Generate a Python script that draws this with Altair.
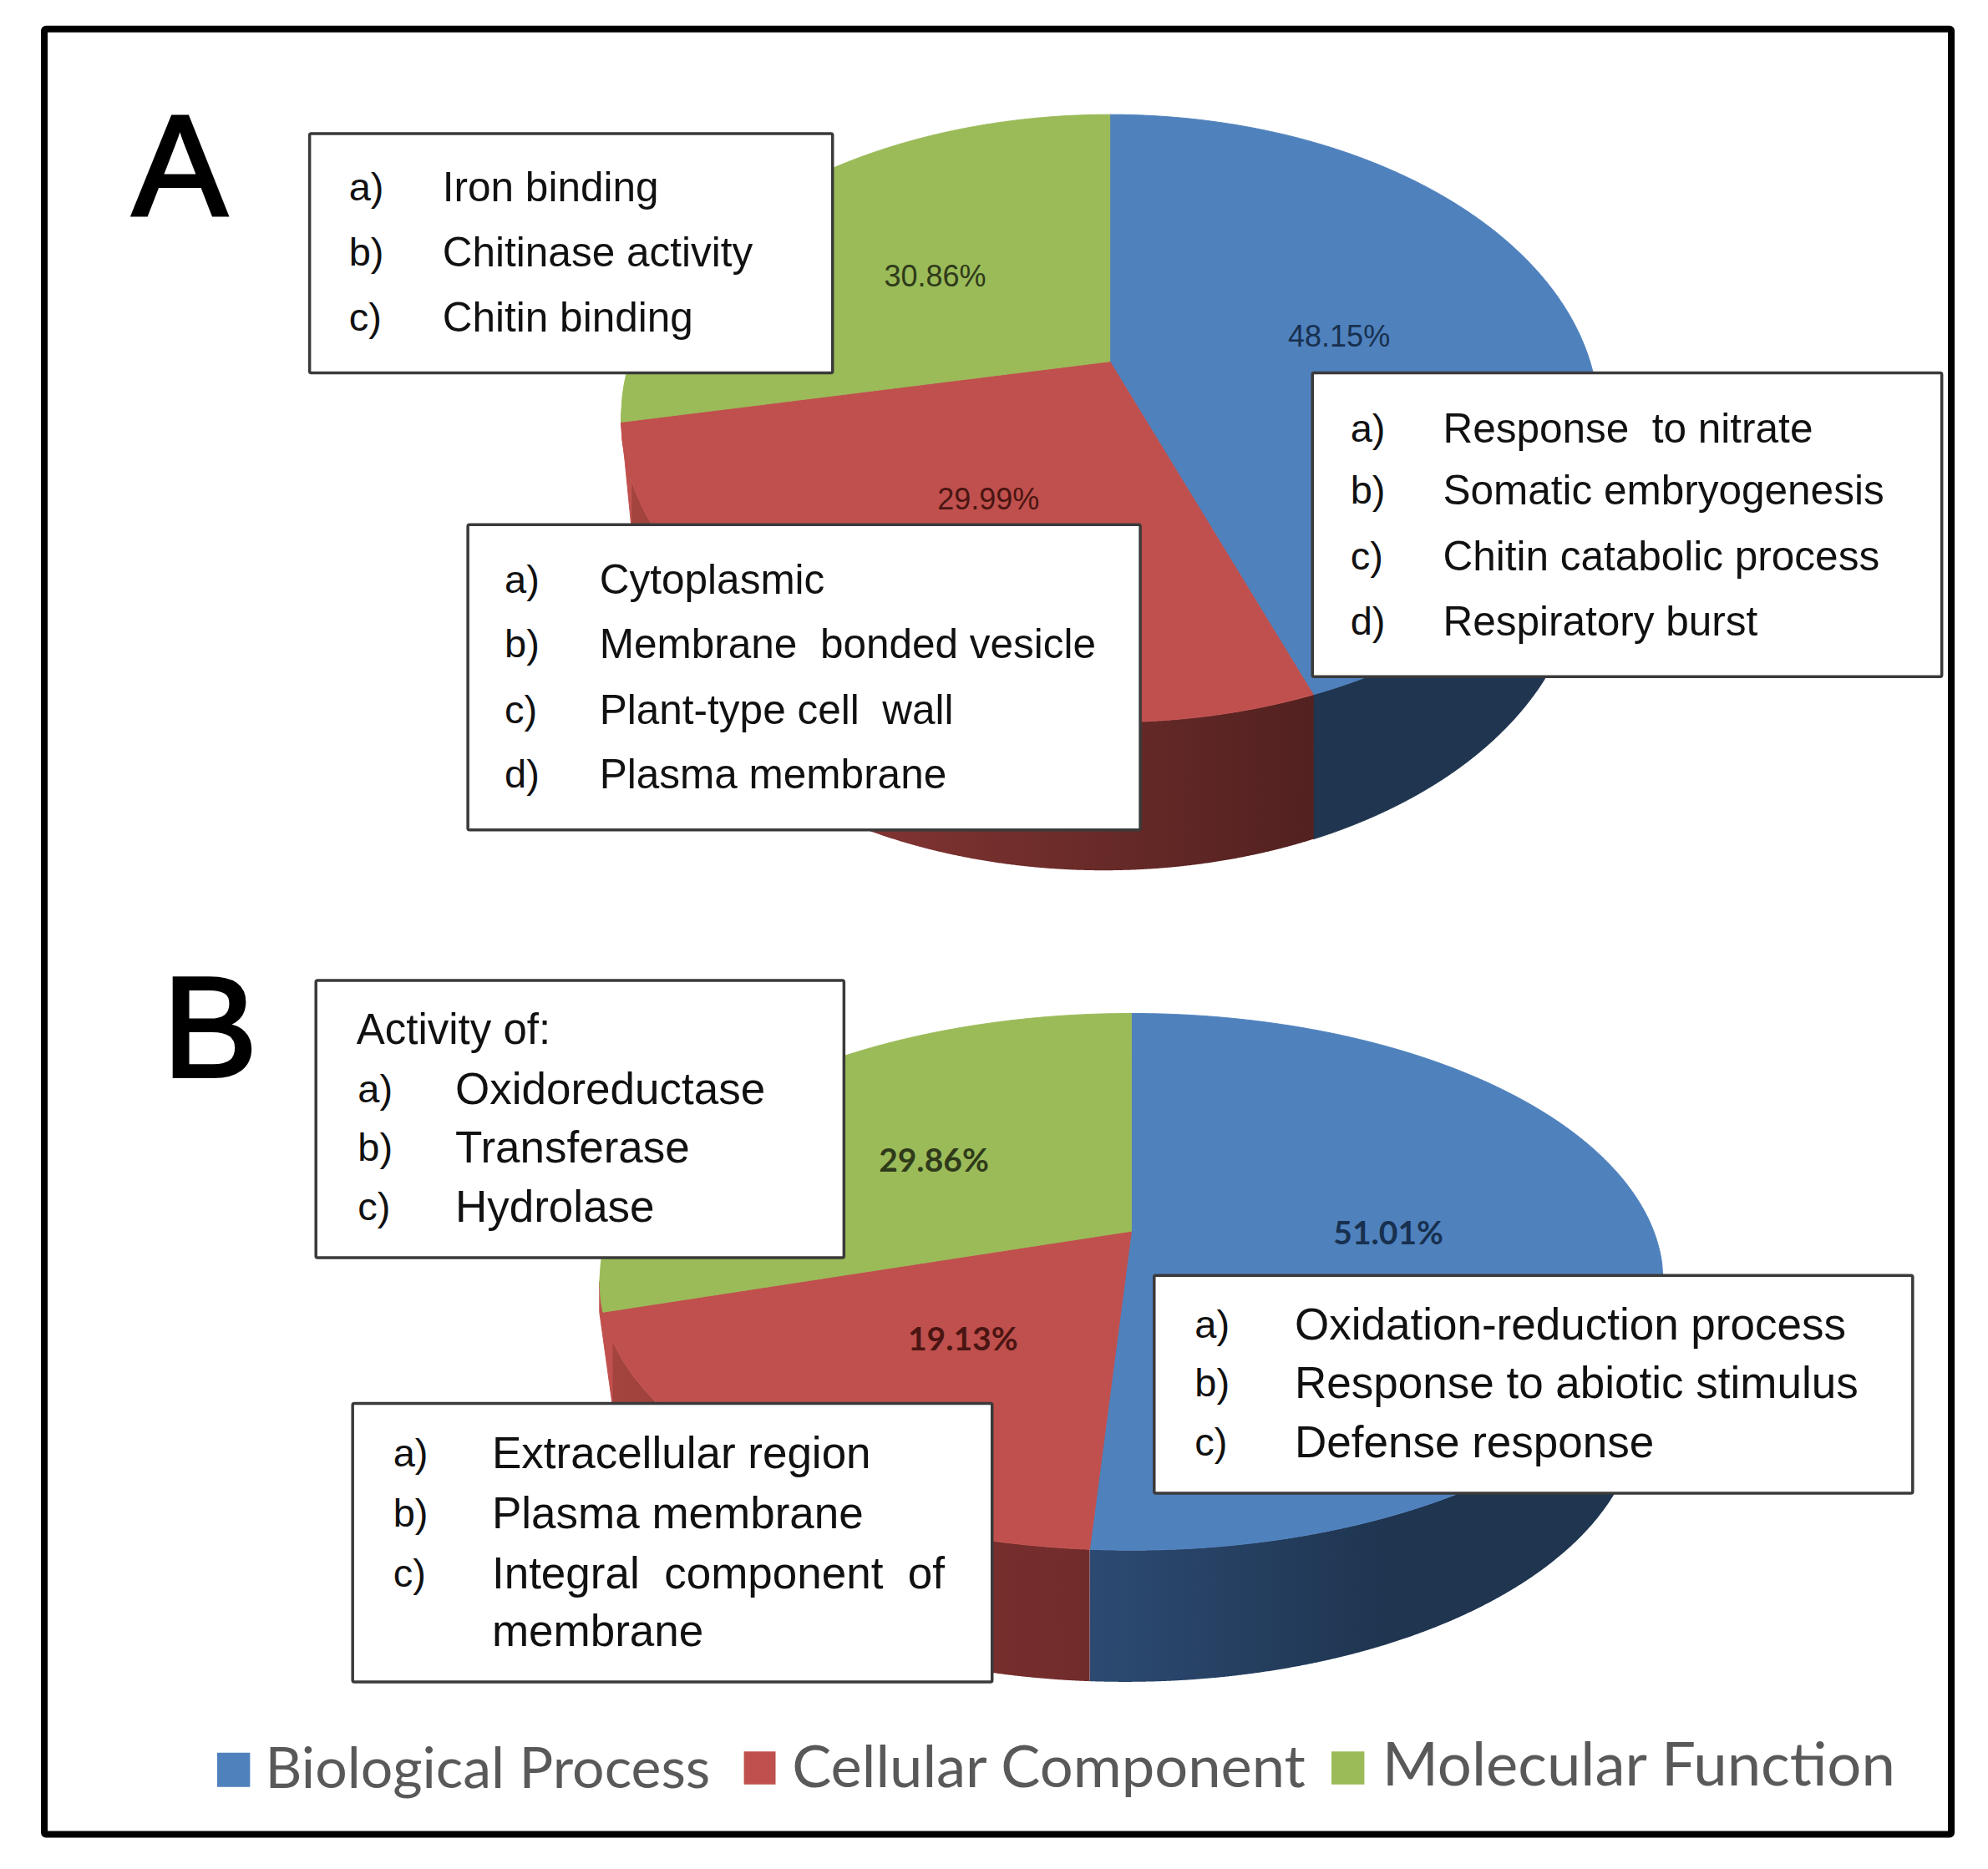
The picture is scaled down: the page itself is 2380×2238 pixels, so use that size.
import numpy as np
import pandas as pd
import altair as alt

W, H = 2380, 2238
S = W / 1570  # picture units used for every position below
BLUE, RED, GREEN = "#4f81bd", "#c0504d", "#9bbb59"

# pie geometry: upper rim (cx, cy, a, b), apex, lower rim (cx, cy, a, b), slice boundaries in degrees
pie_a = dict(apex=(876, 285), top=(876, 330, 386, 240), low=(871, 447, 375, 240), cuts=[0, 155.4, 269.3, 360],
             edge=[(490, 333), (498, 414)])
pie_b = dict(apex=(893, 972), top=(893, 1012, 420, 212), low=(888, 1116, 405, 212), cuts=[0, 184.5, 263.5, 360],
             edge=[(473, 1036), (483, 1108)])
slice_colors = [BLUE, RED, GREEN]

percent_a = [("48.15%", 1057, 265, "#17304f"), ("29.99%", 780, 393, "#4a1512"), ("30.86%", 738, 217, "#2f3a1a")]
percent_b = [("51.01%", 1096, 973, "#17304f"), ("19.13%", 760, 1057, "#4a1512"), ("29.86%", 737, 916, "#2f3a1a")]

boxes = [(244, 657, 105, 294), (1036, 1533, 294, 534), (369, 900, 414, 655),
         (249, 666, 774, 993), (911, 1510, 1007, 1179), (278, 783, 1108, 1328)]

NB = "\u00a0"
items_a = [
    (275, 349, [(147, "a)", "Iron binding"), (199, "b)", "Chitinase activity"), (250, "c)", "Chitin binding")]),
    (1066, 1139, [(338, "a)", f"Response {NB}to nitrate"), (387, "b)", "Somatic embryogenesis"),
                  (439, "c)", "Chitin catabolic process"), (490, "d)", "Respiratory burst")]),
    (398, 473, [(457, "a)", "Cytoplasmic"), (508, "b)", f"Membrane {NB}bonded vesicle"),
                (560, "c)", f"Plant-type cell {NB}wall"), (611, "d)", "Plasma membrane")]),
]
items_b = [
    (282, 359, [(860, "a)", "Oxidoreductase"), (906, "b)", "Transferase"), (953, "c)", "Hydrolase")]),
    (943, 1022, [(1046, "a)", "Oxidation-reduction process"), (1092, "b)", "Response to abiotic stimulus"),
                 (1139, "c)", "Defense response")]),
    (310, 388, [(1147, "a)", "Extracellular region"), (1195, "b)", "Plasma membrane"),
                (1242, "c)", f"Integral {NB}component {NB}of"), (1288, "", "membrane")]),
]
activity = ("Activity of:", 281, 813)
letters = [("A", 104, 134), ("B", 128, 815)]

legend_names = ["Biological Process", "Cellular Component", "Molecular Function"]
legend_text_xy = [(209, 1397), (625, 1396), (1091, 1394)]
legend_sizes = [68, 70.5, 72.5]
legend_swatches = [(171, 197, 1384, 1411), (587, 612, 1383, 1409), (1051, 1077, 1383, 1409)]

XS = alt.Scale(domain=[8 / S - 0.5, (W - 8) / S - 0.5])
YS = alt.Scale(domain=[(H - 8) / S - 0.5, 8 / S - 0.5])


def X(f="x"):
    return alt.X(f"{f}:Q", scale=XS, axis=None, title=None)


def Y(f="y"):
    return alt.Y(f"{f}:Q", scale=YS, axis=None, title=None, stack=None)


def rim(e, t):
    t = np.radians(t)
    return e[0] + e[2] * np.sin(t), e[1] - e[3] * np.cos(t)


def sector(pie, t0, t1):
    px, py = rim(pie["top"], np.linspace(t0, t1, 241))
    vx = np.r_[pie["apex"][0], px, pie["apex"][0]]
    vy = np.r_[pie["apex"][1], py, pie["apex"][1]]
    xs = np.unique(np.r_[np.arange(np.ceil(vx.min()), vx.max(), 1.0), vx.min(), vx.max(), pie["apex"][0], px[0], px[-1]])
    rows = []
    for x in xs:
        hits = []
        for i in range(len(vx) - 1):
            x1, x2, y1, y2 = vx[i], vx[i + 1], vy[i], vy[i + 1]
            if x1 == x2:
                if x == x1:
                    hits += [y1, y2]
            elif min(x1, x2) <= x <= max(x1, x2):
                hits.append(y1 + (y2 - y1) * (x - x1) / (x2 - x1))
        if hits:
            rows.append({"x": x, "y": min(hits), "y2": max(hits)})
    return pd.DataFrame(rows)


def lower(e, x):
    u = np.clip((x - e[0]) / e[2], -1, 1)
    return e[1] + e[3] * np.sqrt(1 - u * u)


def wall(pie, x0, x1):
    xs = np.arange(x0, x1 + 0.5, 1.0)
    d = pd.DataFrame({"x": xs, "y": lower(pie["top"], xs), "y2": lower(pie["low"], xs)})
    return d[d.y2 > d.y]


def sliver(pie):
    (x0, y0), (x1, y1) = pie["edge"]
    xs = np.arange(x0, x1 + 0.5, 1.0)
    top = lower(pie["top"], xs)
    return pd.DataFrame({"x": xs, "y": np.minimum(top, y0 + (xs - x0) * (y1 - y0) / (x1 - x0)),
                         "y2": np.maximum(top, y0 + (xs - x0) * (y1 - y0) / (x1 - x0))})


def grad(stops):
    return alt.LinearGradient(gradient="linear", x1=0, x2=1, y1=0, y2=0,
                              stops=[alt.GradientStop(offset=o, color=c) for o, c in stops])


def area(df, color):
    kw = dict(stroke=color, strokeWidth=1) if isinstance(color, str) else {}
    return alt.Chart(df).mark_area(color=color, **kw).encode(x=X(), y=Y(), y2=alt.Y2("y2:Q"))


def texts(rows, font, size, color="#111111", weight="normal", align="left", **kw):
    df = pd.DataFrame(rows, columns=["t", "x", "y"])
    return alt.Chart(df).mark_text(font=font, fontSize=size, color=color, fontWeight=weight, dy=2,
                                   align=align, baseline="middle", **kw).encode(x=X(), y=Y(), text="t:N")


def rects(rows, **kw):
    df = pd.DataFrame(rows, columns=["x", "x2", "y", "y2"])
    return alt.Chart(df).mark_rect(**kw).encode(x=X(), x2="x2:Q", y=Y(), y2="y2:Q")


layers = [rects([(34.5, 1540.5, 22.5, 1448.5)], fill="white", stroke="black", strokeWidth=8, cornerRadius=2)]

# side walls
split_a = rim(pie_a["top"], pie_a["cuts"][1])[0]
split_b = rim(pie_b["top"], pie_b["cuts"][1])[0]
layers += [
    area(wall(pie_a, split_a, 1262), "#1f3550"),
    area(wall(pie_a, 498, split_a), grad([(0, "#a5443f"), (0.375, "#7f3331"), (0.7, "#672a28"), (1, "#522120")])),
    area(wall(pie_b, split_b, 1292), grad([(0, "#2c4a72"), (0.55, "#1f3550"), (1, "#1f3550")])),
    area(wall(pie_b, 483, split_b), grad([(0, "#a5443f"), (0.7, "#7a2f2e"), (1, "#702c2b")])),
    area(sliver(pie_a), RED),
    area(sliver(pie_b), RED),
]
# top faces
for pie in (pie_a, pie_b):
    for i, c in enumerate(slice_colors):
        layers.append(area(sector(pie, pie["cuts"][i], pie["cuts"][i + 1]), c))

# percentage labels
for rows, font, size, weight in ((percent_a, "Liberation Sans", 36, "normal"), (percent_b, "Lato", 39, "bold")):
    for t, x, y, c in rows:
        layers.append(texts([(t, x, y)], font, size, c, weight, "center"))

# call-out boxes
layers.append(rects(boxes, fill="white", stroke="#3a3a3a", strokeWidth=3.5, cornerRadius=2))
for group, size in ((items_a, 49.5), (items_b, 53)):
    for xa, xb, lines in group:
        layers.append(texts([(m, xa, y) for y, m, _ in lines if m], "Liberation Sans", 47))
        layers.append(texts([(t, xb, y) for y, _, t in lines], "Liberation Sans", size))
layers.append(texts([activity], "Liberation Sans", 51))

# panel letters
layers.append(texts(letters, "Liberation Sans", 170, "black", stroke="black", strokeWidth=4))

# legend
for sw, c in zip(legend_swatches, slice_colors):
    layers.append(rects([sw], fill=c))
for name, (x, y), size in zip(legend_names, legend_text_xy, legend_sizes):
    layers.append(texts([(name, x, y)], "Lato", size, "#595959"))

chart = alt.layer(*layers).resolve_scale(x="shared", y="shared").properties(
    width=W - 16, height=H - 16, padding=0, background="white",
    autosize=alt.AutoSizeParams(type="none"),
).configure_view(stroke=None)

chart.save("out.html", embed_options={"renderer": "svg", "actions": False})
